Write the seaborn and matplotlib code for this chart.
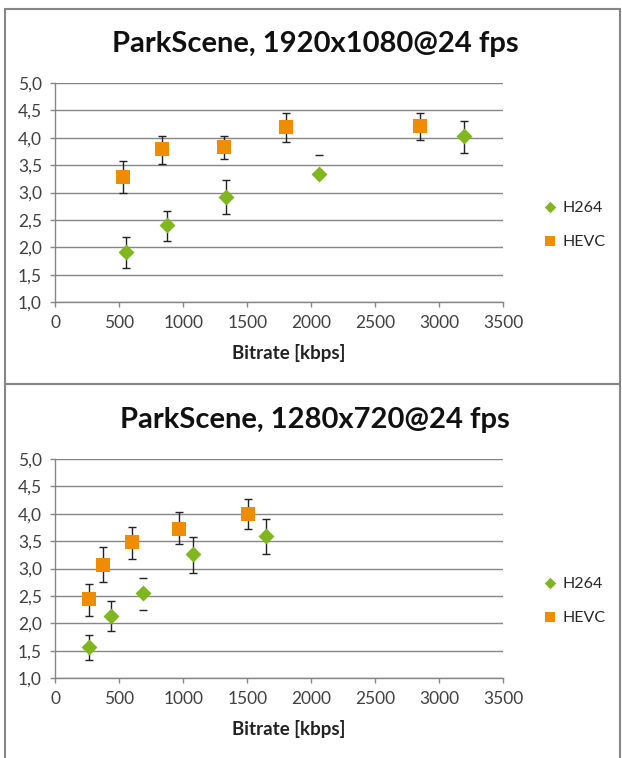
import pandas as pd
import matplotlib.pyplot as plt
import seaborn as sns
from matplotlib.patches import Rectangle

# Data: mean score and the ends of each error bar
codecs = ['H264', 'HEVC']

# 1920x1080
rate_1080_h264 = [555, 870, 1334, 2063, 3192]
mos_1080_h264 = [1.91, 2.40, 2.92, 3.34, 4.03]
hi_1080_h264 = [2.19, 2.67, 3.22, 3.69, 4.31]
lo_1080_h264 = [1.62, 2.11, 2.60, 3.34, 3.72]

rate_1080_hevc = [527, 836, 1316, 1805, 2852]
mos_1080_hevc = [3.28, 3.79, 3.83, 4.19, 4.21]
hi_1080_hevc = [3.58, 4.04, 4.04, 4.45, 4.45]
lo_1080_hevc = [3.00, 3.52, 3.61, 3.92, 3.95]

# 1280x720
rate_720_h264 = [266, 432, 688, 1075, 1647]
mos_720_h264 = [1.57, 2.13, 2.55, 3.26, 3.59]
hi_720_h264 = [1.79, 2.40, 2.83, 3.58, 3.90]
lo_720_h264 = [1.33, 1.85, 2.24, 2.91, 3.26]

rate_720_hevc = [263, 370, 602, 964, 1505]
mos_720_hevc = [2.44, 3.07, 3.48, 3.72, 3.99]
hi_720_hevc = [2.72, 3.39, 3.76, 4.03, 4.27]
lo_720_hevc = [2.14, 2.75, 3.18, 3.44, 3.72]

# points where only the caps of the error bar show (no stem)
no_stem_1080_h264 = [3]
no_stem_720_h264 = [2]

titles = ['ParkScene, 1920x1080@24 fps', 'ParkScene, 1280x720@24 fps']
x_ticks = [0, 500, 1000, 1500, 2000, 2500, 3000, 3500]
y_ticks = [1.0, 1.5, 2.0, 2.5, 3.0, 3.5, 4.0, 4.5, 5.0]
y_tick_labels = ['1,0', '1,5', '2,0', '2,5', '3,0', '3,5', '4,0', '4,5', '5,0']

sns.set_theme(style='white')
plt.rcParams['font.family'] = ['Lato', 'DejaVu Sans']

GREEN = '#80B61E'
ORANGE = '#F08C00'
GREY = '#868686'
colors = {'H264': GREEN, 'HEVC': ORANGE}
markers = {'H264': 'D', 'HEVC': 's'}
sizes = {'H264': 66, 'HEVC': 105}


def make_df(rate, mos, hi, lo, codec):
    return pd.DataFrame({'Bitrate': rate, 'MOS': mos, 'hi': hi, 'lo': lo, 'Codec': codec})


panels = [
    [make_df(rate_1080_h264, mos_1080_h264, hi_1080_h264, lo_1080_h264, 'H264'),
     make_df(rate_1080_hevc, mos_1080_hevc, hi_1080_hevc, lo_1080_hevc, 'HEVC'),
     no_stem_1080_h264],
    [make_df(rate_720_h264, mos_720_h264, hi_720_h264, lo_720_h264, 'H264'),
     make_df(rate_720_hevc, mos_720_hevc, hi_720_hevc, lo_720_hevc, 'HEVC'),
     no_stem_720_h264],
]

W, H = 622, 758
fig = plt.figure(figsize=(W / 100, H / 100), dpi=100)

# grey frames round the two chart panels
fig.patches.append(Rectangle((4.5 / W, 1 - 384 / H), 615.5 / W, 375 / H,
                             transform=fig.transFigure, fill=False,
                             edgecolor=GREY, linewidth=1.5))
fig.patches.append(Rectangle((4.5 / W, -0.05), 615.5 / W, 0.05 + 1 - 384 / H,
                             transform=fig.transFigure, fill=False,
                             edgecolor=GREY, linewidth=1.5))

offsets = [0, 376]
for (df_h, df_e, no_stem), title, off in zip(panels, titles, offsets):
    ax = fig.add_axes([55.3 / W, 1 - (302 + off) / H, 448 / W, 219 / H])

    for df in (df_h, df_e):
        codec = df['Codec'].iloc[0]
        stem = [i for i in range(len(df)) if not (codec == 'H264' and i in no_stem)]
        caps_only = [i for i in range(len(df)) if i not in stem]
        for idx, elw in ((stem, 1.0), (caps_only, 0)):
            if not idx:
                continue
            d = df.iloc[idx]
            ax.errorbar(d['Bitrate'], d['MOS'],
                        yerr=[d['MOS'] - d['lo'], d['hi'] - d['MOS']],
                        fmt='none', ecolor='#222222', elinewidth=elw,
                        capsize=3, capthick=1.0, zorder=2)
        sns.scatterplot(data=df, x='Bitrate', y='MOS', marker=markers[codec],
                        color=colors[codec], s=sizes[codec], linewidth=0,
                        label=codec, zorder=3, ax=ax)

    ax.set_xlim(0, 3500)
    ax.set_ylim(1, 5)
    ax.set_xticks(x_ticks)
    ax.set_xticklabels([str(t) for t in x_ticks])
    ax.set_yticks(y_ticks)
    ax.set_yticklabels(y_tick_labels)
    ax.set_xlabel('')
    ax.set_ylabel('')
    ax.grid(axis='y', color=GREY, linewidth=1.0)
    ax.set_axisbelow(True)
    for side in ('top', 'right'):
        ax.spines[side].set_visible(False)
    for side in ('left', 'bottom'):
        ax.spines[side].set_color(GREY)
        ax.spines[side].set_linewidth(1.0)
    ax.tick_params(axis='both', direction='out', length=3.6, width=1.0,
                   color=GREY, labelsize=12.5, labelcolor='#404040')
    ax.tick_params(axis='x', pad=6)
    ax.tick_params(axis='y', pad=6, left=True)
    ax.tick_params(axis='x', bottom=True)

    handles, labels = ax.get_legend_handles_labels()
    ax.legend(handles, labels, loc='center left',
              bbox_to_anchor=(534 / W, 1 - (224.5 + off) / H),
              bbox_transform=fig.transFigure, frameon=False,
              handlelength=1.0, handletextpad=0.3, labelspacing=1.25,
              markerscale=0.72, fontsize=11.5, borderpad=0)

    fig.text(315 / W, 1 - (44 + off) / H, title, ha='center', va='center',
             fontsize=21, fontweight='bold', color='#111111')
    fig.text(289 / W, 1 - (353 + off) / H, 'Bitrate [kbps]', ha='center',
             va='center', fontsize=13.5, fontweight='bold', color='#222222')

fig.savefig('out.png', dpi=100)
